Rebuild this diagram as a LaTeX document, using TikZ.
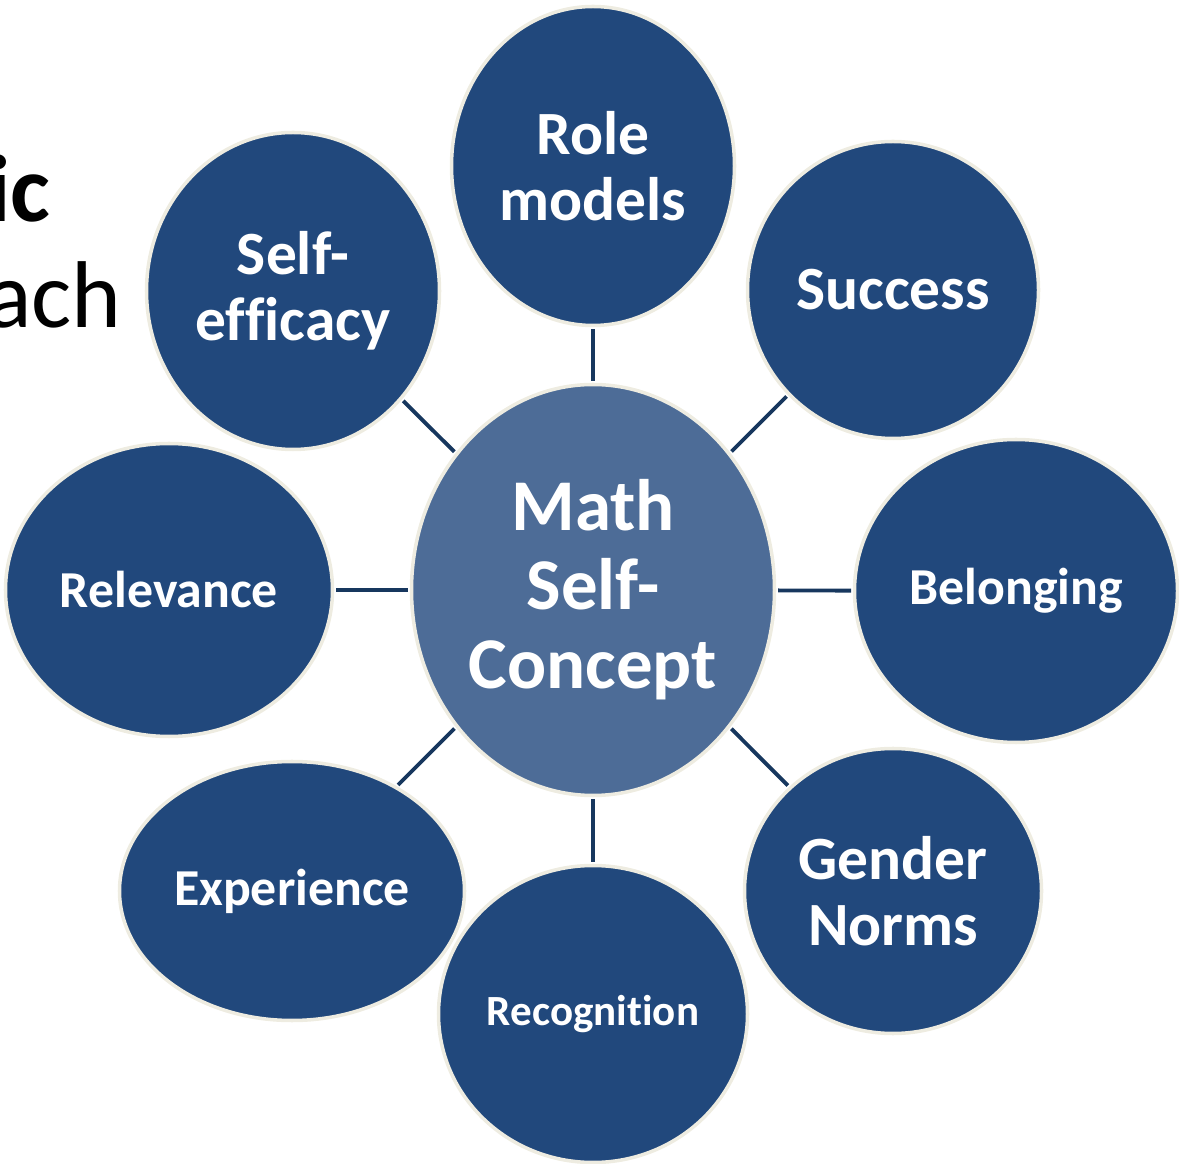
\documentclass[tikz,border=0pt]{standalone}
\usepackage{fontspec}
\setmainfont{Carlito}[Ligatures=NoCommon]
\usetikzlibrary{shapes.geometric}
\definecolor{outerblue}{RGB}{33,72,124}
\definecolor{innerblue}{RGB}{77,108,151}
\definecolor{rimcream}{RGB}{238,236,225}
\definecolor{linkblue}{RGB}{23,55,94}
\tikzset{
  bubble/.style={ellipse,draw=rimcream,line width=2pt,fill=outerblue,text=white,inner sep=0pt,align=center},
  bubblesize/.style 2 args={minimum width=#1*0.02cm,minimum height=#2*0.02cm},
  link/.style={draw=linkblue,line width=2.2pt,shorten <=1pt,shorten >=1pt},
  bigtxt/.style={font=\fontsize{35}{37.5}\selectfont\bfseries},
  midtxt/.style={font=\fontsize{29.5}{31}\selectfont\bfseries},
}
\begin{document}
\begin{tikzpicture}[x=0.02cm,y=0.02cm]
\useasboundingbox (0,0) rectangle (1179,1163);
% cut-off title on the left
\node[anchor=base east,inner sep=0pt,font=\fontsize{54}{60}\selectfont\bfseries] (titlea) at (51,941) {ic};
\node[anchor=base east,inner sep=0pt,font=\fontsize{54}{60}\selectfont] (titleb) at (122,835) {ach};
% centre
\node[bubble,fill=innerblue,bubblesize={363}{411},font=\fontsize{41.5}{45}\selectfont\bfseries] (math) at (593,573) {Math\\Self-\\Concept};
% ring
\node[bubble,bubblesize={283}{319},bigtxt] (role) at (593,997) {Role\\models};
\node[bubble,bubblesize={291}{297},bigtxt] (success) at (893,873) {Success};
\node[bubble,bubblesize={323}{303},midtxt] (belong) at (1016,572) {Belonging};
\node[bubble,bubblesize={297}{285},bigtxt] (gender) at (893,272) {Gender\\Norms};
\node[bubble,bubblesize={309}{297},font=\fontsize{24.5}{26}\selectfont\bfseries] (recog) at (593,149) {Recognition};
\node[bubble,bubblesize={345}{259},midtxt] (exper) at (292,272) {Experience};
\node[bubble,bubblesize={327}{293},midtxt] (relev) at (169,573) {Relevance};
\node[bubble,bubblesize={293}{317},bigtxt] (selfeff) at (293,872) {Self-\\efficacy};
\foreach \n in {role,success,belong,gender,recog,exper,relev,selfeff}
  \draw[link] (math) -- (\n);
\end{tikzpicture}
\end{document}
